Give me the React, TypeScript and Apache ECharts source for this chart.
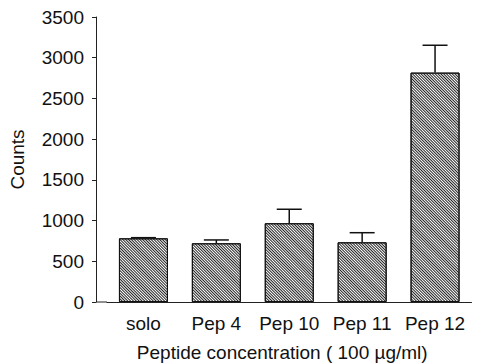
import React, { useEffect, useRef } from "react";
import * as echarts from "echarts";

const categories = ["solo", "Pep 4", "Pep 10", "Pep 11", "Pep 12"];
const counts = [782, 721, 967, 733, 2817];
const errorTops = [790, 762, 1139, 851, 3153];
const yTicks = { min: 0, max: 3500, interval: 500 };

export default function App() {
  const ref = useRef<HTMLDivElement>(null);
  useEffect(() => {
    if (!ref.current) return;
    const chart = echarts.init(ref.current, undefined, { renderer: "svg" });
    const font = "'Liberation Sans', Arial, sans-serif";
    chart.setOption({
      animation: false,
      backgroundColor: "#fff",
      grid: { left: 107, right: 7.5, top: 17, bottom: 62, outerBoundsMode: "none", containLabel: false },
      xAxis: {
        type: "category",
        data: categories,
        axisLine: { lineStyle: { color: "#222", width: 1 } },
        axisTick: { show: false },
        axisLabel: { color: "#111", fontSize: 19, fontFamily: font, margin: 12, interval: 0 },
        name: "Peptide concentration ( 100 µg/ml)",
        nameLocation: "middle",
        nameGap: 41,
        nameTextStyle: { color: "#111", fontSize: 19, fontFamily: font, padding: [0, 14, 0, 0] },
      },
      yAxis: {
        type: "value",
        min: yTicks.min,
        max: yTicks.max,
        interval: yTicks.interval,
        offset: 11,
        splitLine: { show: false },
        axisLine: { show: true, lineStyle: { color: "#222", width: 1 } },
        axisTick: { show: true, length: 4, lineStyle: { color: "#222" } },
        axisLabel: {
          color: "#111",
          fontSize: 19,
          fontFamily: font,
          margin: 12,
          formatter: (v: number) => String(v),
        },
        name: "Counts",
        nameLocation: "middle",
        nameRotate: 90,
        nameGap: 69,
        nameTextStyle: { color: "#111", fontSize: 19, fontFamily: font },
      },
      graphic: [
        {
          type: "line",
          shape: { x1: 96, y1: 302, x2: 107, y2: 302 },
          style: { stroke: "#222", lineWidth: 1 },
        },
      ],
      series: [
        {
          type: "bar",
          data: counts,
          barWidth: 49,
          itemStyle: {
            color: "#fff",
            borderColor: "#111",
            borderWidth: 1,
            decal: {
              symbol: "rect",
              symbolSize: 1,
              color: "#222",
              dashArrayX: [1, 0],
              dashArrayY: [1, 1],
              rotation: Math.PI / 4,
            },
          },
          z: 2,
        },
        {
          type: "custom",
          data: categories.map((_, i) => [i, counts[i], errorTops[i]]),
          renderItem: (params: any, api: any) => {
            const i = api.value(0);
            const base = api.coord([i, api.value(1)]);
            const top = api.coord([i, api.value(2)]);
            const hw = 12.5;
            return {
              type: "group",
              children: [
                {
                  type: "line",
                  shape: { x1: base[0], y1: base[1], x2: top[0], y2: top[1] },
                  style: { stroke: "#111", lineWidth: 1.5 },
                },
                {
                  type: "line",
                  shape: { x1: top[0] - hw, y1: top[1], x2: top[0] + hw, y2: top[1] },
                  style: { stroke: "#111", lineWidth: 1.5 },
                },
              ],
            };
          },
          z: 3,
        },
      ],
    });
    return () => chart.dispose();
  }, []);
  return <div ref={ref} style={{ width: 479, height: 364, position: "absolute", left: 0, top: 0 }} />;
}
